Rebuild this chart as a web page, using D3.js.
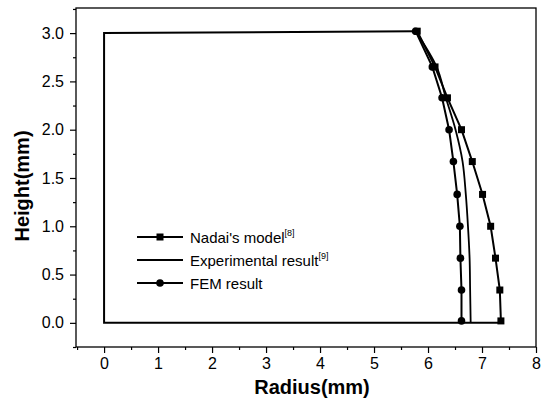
<!DOCTYPE html>
<html>
<head>
<meta charset="utf-8">
<script src="https://cdn.jsdelivr.net/npm/d3@7"></script>
<style>
  body { margin:0; background:#fff; }
  svg { font-family: Arial, "Liberation Sans", sans-serif; }
</style>
</head>
<body>
<svg id="chart" width="549" height="399"></svg>
<script>
// values
var heights  = [3.02, 2.65, 2.33, 2.0, 1.67, 1.33, 1.0, 0.67, 0.34, 0.02];
var nadaiR   = [5.80, 6.13, 6.36, 6.62, 6.82, 7.01, 7.16, 7.25, 7.33, 7.35];
var femR     = [5.77, 6.08, 6.26, 6.39, 6.47, 6.54, 6.59, 6.60, 6.62, 6.62];
var expH     = [3.02, 2.65, 2.33, 2.0, 1.67, 1.33, 1.0, 0.67, 0.34, 0.0];
var expR     = [5.77, 6.16, 6.33, 6.51, 6.64, 6.70, 6.74, 6.77, 6.78, 6.79];
// initial specimen outline (bottom, axis side, top)
var outlineR = [7.35, 0, 0, 5.77];
var outlineH = [0, 0, 3.0, 3.02];
var xTicks = [0, 1, 2, 3, 4, 5, 6, 7, 8];
var yTicks = [0.0, 0.5, 1.0, 1.5, 2.0, 2.5, 3.0];

var svg = d3.select("#chart");
var margins = {left:76, right:13, top:8, bottom:52};
var width = 549 - margins.left - margins.right;
var height = 399 - margins.top - margins.bottom;

var g = svg.append("g")
  .attr("transform","translate(" + margins.left + "," + margins.top + ")");

var xScale = d3.scaleLinear().domain([-0.52, 8]).range([0, width]);
var yScale = d3.scaleLinear().domain([-0.25, 3.26]).range([height, 0]);

// minor ticks
var xMinor = d3.range(-0.5, 8.01, 0.5).filter(v => Math.abs(v % 1) > 0.01);
var yMinor = d3.range(-0.25, 3.26, 0.25).filter(v => Math.abs((v * 2) % 1) > 0.01);

g.append("g")
  .attr("transform","translate(0," + height + ")")
  .call(d3.axisBottom(xScale).tickValues(xMinor).tickSize(3).tickFormat(""))
  .call(a => a.select(".domain").remove());
g.append("g")
  .call(d3.axisLeft(yScale).tickValues(yMinor).tickSize(3).tickFormat(""))
  .call(a => a.select(".domain").remove());

var xAxis = g.append("g")
  .attr("transform","translate(0," + height + ")")
  .call(d3.axisBottom(xScale).tickValues(xTicks).tickSize(6).tickPadding(5).tickFormat(d3.format("d")));
var yAxis = g.append("g")
  .call(d3.axisLeft(yScale).tickValues(yTicks).tickSize(6).tickPadding(6).tickFormat(d3.format(".1f")));

[xAxis, yAxis].forEach(function(a){
  a.selectAll("text").attr("font-size", 16).attr("fill", "#000")
    .attr("font-family", "Arial, 'Liberation Sans', sans-serif");
  a.selectAll("line").attr("stroke", "#000").attr("stroke-width", 1.2);
  a.select(".domain").remove();
});
g.selectAll(".tick line").attr("stroke", "#000").attr("stroke-width", 1.2);

// frame
g.append("rect")
  .attr("width", width).attr("height", height)
  .attr("fill", "none").attr("stroke", "#000").attr("stroke-width", 1.3);

// outline
var outline = outlineR.map((r, i) => [r, outlineH[i]]);
g.append("path")
  .datum(outline)
  .attr("fill", "none").attr("stroke", "#000").attr("stroke-width", 2)
  .attr("d", d3.line().x(d => xScale(d[0])).y(d => yScale(d[1])));

// experimental curve
var expPts = expR.map((r, i) => [r, expH[i]]);
g.append("path")
  .datum(expPts)
  .attr("fill", "none").attr("stroke", "#000").attr("stroke-width", 1.8)
  .attr("d", d3.line().curve(d3.curveCatmullRom).x(d => xScale(d[0])).y(d => yScale(d[1])));

// nadai & fem
var lineGen = d3.line().x(d => xScale(d[0])).y(d => yScale(d[1]));
var nadaiPts = nadaiR.map((r, i) => [r, heights[i]]);
var femPts = femR.map((r, i) => [r, heights[i]]);

g.append("path").datum(nadaiPts)
  .attr("fill", "none").attr("stroke", "#000").attr("stroke-width", 2).attr("d", lineGen);
g.append("path").datum(femPts)
  .attr("fill", "none").attr("stroke", "#000").attr("stroke-width", 2).attr("d", lineGen);

g.selectAll("rect.sq").data(nadaiPts).enter().append("rect")
  .attr("class", "sq")
  .attr("x", d => xScale(d[0]) - 3.5).attr("y", d => yScale(d[1]) - 3.5)
  .attr("width", 7).attr("height", 7).attr("fill", "#000");
g.selectAll("circle.fem").data(femPts).enter().append("circle")
  .attr("class", "fem")
  .attr("cx", d => xScale(d[0])).attr("cy", d => yScale(d[1]))
  .attr("r", 3.8).attr("fill", "#000");

// axis titles
svg.append("text")
  .attr("x", 312).attr("y", 394)
  .attr("text-anchor", "middle").attr("font-size", 20).attr("font-weight", "bold")
  .text("Radius(mm)");
svg.append("text")
  .attr("transform", "translate(29,186) rotate(-90)")
  .attr("text-anchor", "middle").attr("font-size", 20).attr("font-weight", "bold")
  .text("Height(mm)");

// legend
var legendItems = [
  {name:"Nadai's model", sup:"[8]", marker:"square", y:237},
  {name:"Experimental result", sup:"[9]", marker:"none", y:260},
  {name:"FEM result", sup:"", marker:"circle", y:283}
];
var legend = svg.append("g");
legendItems.forEach(function(item){
  legend.append("line")
    .attr("x1", 137).attr("x2", 183).attr("y1", item.y).attr("y2", item.y)
    .attr("stroke", "#000").attr("stroke-width", item.marker == "none" ? 1.8 : 2);
  if(item.marker == "square")
    legend.append("rect").attr("x", 156.5).attr("y", item.y - 3.5)
      .attr("width", 7).attr("height", 7).attr("fill", "#000");
  if(item.marker == "circle")
    legend.append("circle").attr("cx", 160).attr("cy", item.y).attr("r", 3.8).attr("fill", "#000");
  var t = legend.append("text")
    .attr("x", 190).attr("y", item.y + 5.5)
    .attr("font-size", 15);
  t.append("tspan").text(item.name);
  if(item.sup)
    t.append("tspan").attr("font-size", 9).attr("dy", -7).text(item.sup);
});
</script>
</body>
</html>
